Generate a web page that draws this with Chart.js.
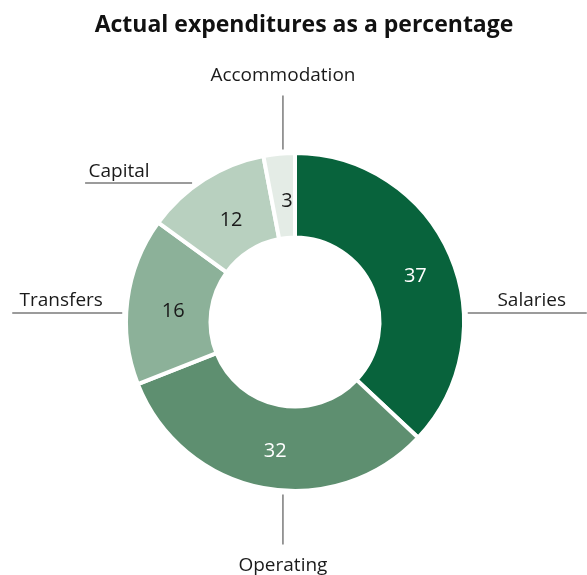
<!DOCTYPE html>
<html>
<head>
<meta charset="utf-8">
<script src="https://cdn.jsdelivr.net/npm/chart.js@4.4.1/dist/chart.umd.min.js"></script>
<style>
  html, body { margin: 0; padding: 0; background: #fff; }
  #wrap { width: 587px; height: 575px; }
</style>
</head>
<body>
<div id="wrap"><canvas id="chart"></canvas></div>
<script>
const categories = ["Salaries", "Operating", "Transfers", "Capital", "Accommodation"];
const shares = [37, 32, 16, 12, 3];
const sliceColors = ["#08633c", "#5e8f70", "#8cb199", "#b8d0bf", "#e4ece6"];
const valueColors = ["#ffffff", "#ffffff", "#1a1a1a", "#1a1a1a", "#1a1a1a"];

const FONT = "'Open Sans', 'Noto Sans', sans-serif";

// where each outside label sits: angle clockwise from top, leader direction, length, text offset
const callouts = [
  { at: 87,    dir: "right", len: 119, tx: 64,  ty: -7 },
  { at: 184,   dir: "down",  len: 50,  tx: 0,   ty: 76 },
  { at: 273,   dir: "left",  len: 110, tx: -61, ty: -7 },
  { at: 323.5, dir: "left",  len: 107, tx: -73, ty: -6 },
  { at: 356,   dir: "up",    len: 54,  tx: 0,   ty: -68 }
];

const labelsPlugin = {
  id: "labels",
  afterDraw(chart) {
    const ctx = chart.ctx;
    const arcs = chart.getDatasetMeta(0).data;
    ctx.save();

    // title
    ctx.fillStyle = "#111";
    ctx.font = "bold 23px " + FONT;
    ctx.textAlign = "center";
    ctx.textBaseline = "alphabetic";
    ctx.fillText("Actual expenditures as a percentage", 304, 32);

    arcs.forEach((arc, i) => {
      const p = arc.getProps(["x", "y", "startAngle", "endAngle", "innerRadius", "outerRadius"], true);
      const mid = (p.startAngle + p.endAngle) / 2;
      const r = (p.innerRadius + p.outerRadius) / 2;

      // value inside slice
      ctx.font = "20px " + FONT;
      ctx.fillStyle = valueColors[i];
      ctx.textAlign = "center";
      ctx.textBaseline = "middle";
      ctx.fillText(String(shares[i]), p.x + Math.cos(mid) * r + 4, p.y + Math.sin(mid) * r + 5);

      // leader line + category name
      const c = callouts[i];
      const a = c.at * Math.PI / 180;
      const ro = p.outerRadius + 4;
      const ax = p.x + Math.sin(a) * ro;
      const ay = p.y - Math.cos(a) * ro;
      let bx = ax, by = ay;
      if (c.dir === "right") bx = ax + c.len;
      if (c.dir === "left") bx = ax - c.len;
      if (c.dir === "up") by = ay - c.len;
      if (c.dir === "down") by = ay + c.len;
      ctx.strokeStyle = "#7a7a7a";
      ctx.lineWidth = 1.5;
      ctx.beginPath();
      ctx.moveTo(ax, ay);
      ctx.lineTo(bx, by);
      ctx.stroke();

      ctx.font = "19px " + FONT;
      ctx.fillStyle = "#1a1a1a";
      ctx.textAlign = "center";
      ctx.textBaseline = "alphabetic";
      ctx.fillText(categories[i], ax + c.tx, ay + c.ty);
    });
    ctx.restore();
  }
};

new Chart(document.getElementById("chart"), {
  type: "doughnut",
  data: {
    labels: categories,
    datasets: [{
      data: shares,
      backgroundColor: sliceColors,
      borderColor: "#ffffff",
      borderWidth: 4,
      hoverOffset: 0
    }]
  },
  options: {
    responsive: true,
    maintainAspectRatio: false,
    animation: false,
    cutout: "50%",
    layout: {
      padding: { left: 124, right: 121, top: 151, bottom: 82 }
    },
    plugins: {
      legend: { display: false },
      tooltip: { enabled: false },
      title: { display: false }
    }
  },
  plugins: [labelsPlugin]
});
</script>
</body>
</html>
